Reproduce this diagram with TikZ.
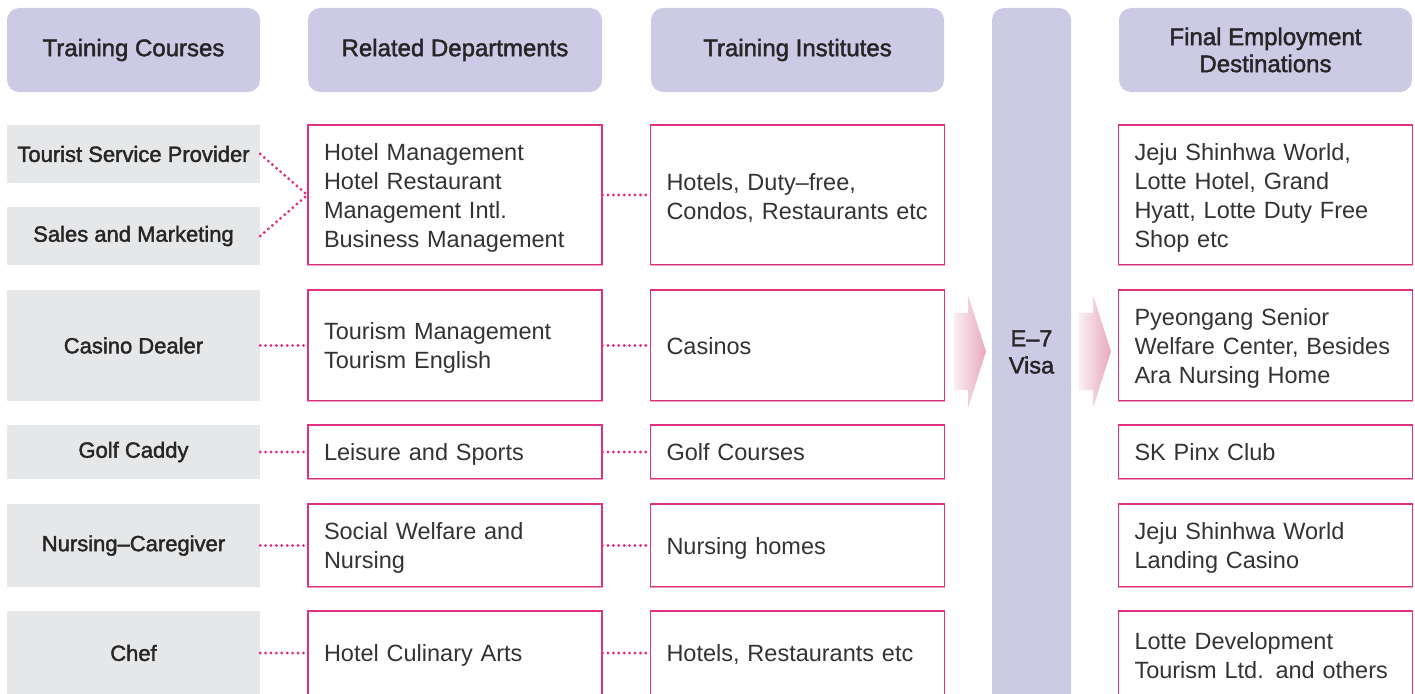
\documentclass[tikz,border=0pt]{standalone}
\usepackage{fontspec}
\setmainfont{Liberation Sans}
\newfontfamily\medfont[FakeBold=1.8]{Liberation Sans}
\usetikzlibrary{positioning}
\definecolor{lav}{RGB}{205,202,230}
\definecolor{grayb}{RGB}{230,231,232}
\definecolor{mag}{RGB}{224,48,128}
\definecolor{pinkb}{RGB}{234,155,192}
\definecolor{arrpink}{RGB}{231,169,189}
\definecolor{txt}{RGB}{51,51,51}

\begin{document}
\begin{tikzpicture}[x=1pt, y=-1pt,
    H/.style = {rectangle, rounded corners=12pt, fill=lav, minimum
      width=293pt, minimum height=84pt, align=center, inner sep=0pt,
      font=\medfont\fontsize{24}{27}\selectfont, text=black!85}, % header boxes
    G/.style = {rectangle, fill=grayb, minimum width=253pt, minimum
      height=#1, inner sep=0pt, font=\medfont\fontsize{22}{27}\selectfont,
      text=black!85}, % course boxes on the left
    P/.style = {rectangle, draw=mag, line width=1.2pt, text width=262pt,
      inner xsep=16pt, inner ysep=0pt, minimum height=#1, align=left,
      font=\fontsize{23.5}{29}\selectfont, text=txt,
      execute at end node={\endgraf\vspace*{-5pt}}}, % pink framed boxes
    D/.style = {draw=mag, line width=3.2pt, line cap=round, dash
      pattern=on 0pt off 5.4pt}, % dotted links
    ]
    \useasboundingbox (0,0) rectangle (1415,693);
    \clip (0,0) rectangle (1415,693);

    % headers
    \node[H, minimum width=253pt] (H-1) at (133.5,50) {Training Courses};
    \node[H, minimum width=294pt] (H-2) at (455,50) {Related Departments};
    \node[H] (H-3) at (797.5,50) {Training Institutes};
    \node[H] (H-4) at (1265.5,50) {Final Employment\\Destinations};
    \node[H, minimum width=79pt, minimum height=712pt] (V) at (1031.5,364) {};
    \node[font=\medfont\fontsize{23.5}{27}\selectfont, text=black!85,
      align=center] (VT) at (1031.5,352) {E–7\\Visa};

    \foreach \t/\y/\h [count=\i] in {Tourist Service Provider/154/58,
      Sales and Marketing/236/58, Casino Dealer/345.5/111, Golf Caddy/452/54,
      Nursing–Caregiver/545.5/83, Chef/653/84}% <-- training courses
    \node[G=\h pt] (C-\i) at (133.5,\y) {\t};

    \foreach \y/\h/\a/\b/\c [count=\i] in {
      195/140/{Hotel Management\\Hotel Restaurant\\Management Intl.\\Business Management}/{Hotels, Duty–free,\\Condos, Restaurants etc}/{Jeju Shinhwa World,\\Lotte Hotel, Grand\\Hyatt, Lotte Duty Free\\Shop etc},
      345.5/111/{Tourism Management\\Tourism English}/{Casinos}/{Pyeongang Senior\\Welfare Center, Besides\\Ara Nursing Home},
      452/54/{Leisure and Sports}/{Golf Courses}/{SK Pinx Club},
      545.5/83/{Social Welfare and\\Nursing}/{Nursing homes}/{Jeju Shinhwa World\\Landing Casino},
      653/84/{Hotel Culinary Arts}/{Hotels, Restaurants etc}/{Lotte Development\\Tourism Ltd. and others}}
    {
      \node[P=\h pt] (R-\i) at (455,\y) {\a};
      \node[P=\h pt] (I-\i) at (797.5,\y) {\b};
      \node[P=\h pt] (F-\i) at (1265.5,\y) {\c};
      \draw[D] (R-\i.east) -- (I-\i.west);
      \foreach \n in {R,I,F}
      \draw[pinkb, line width=1.6pt] (\n-\i.south west) -- (\n-\i.south east);
    }

    \draw[D] (C-1.east) -- (R-1.west);
    \foreach \i in {2,...,6} { \pgfmathtruncatemacro{\j}{\i - 1}%
      \draw[D] (C-\i.east) -- (R-\j.west); }

    % arrows into and out of the visa column
    \foreach \x in {954,1079}
    \shade[left color=arrpink!20, right color=arrpink] (\x,313) --
    (\x+14,313) -- (\x+14,295) -- (\x+32,351.5) -- (\x+14,408) --
    (\x+14,390) -- (\x,390) -- cycle;
  \end{tikzpicture}
\end{document}
